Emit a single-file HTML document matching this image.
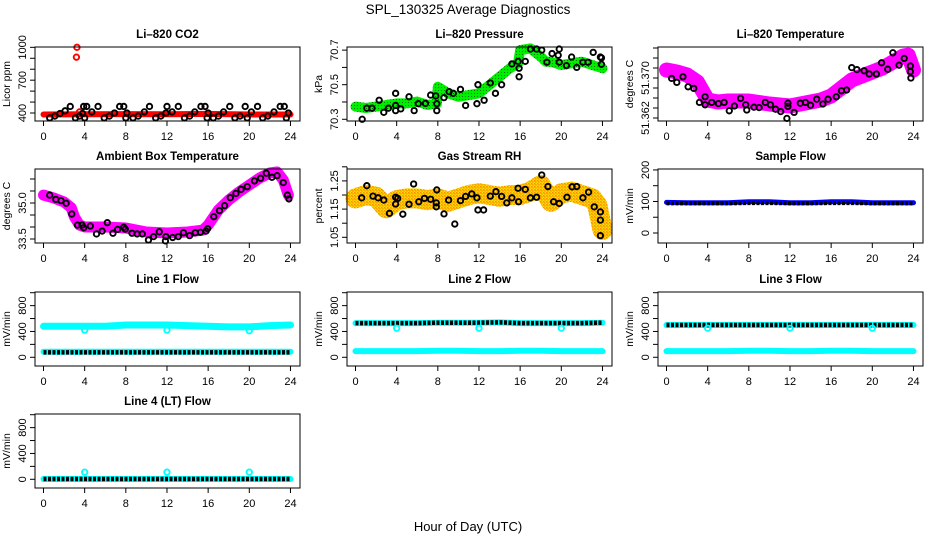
<!DOCTYPE html>
<html><head><meta charset="utf-8"><style>
body{margin:0;background:#fff}
svg{display:block;font-family:"Liberation Sans",sans-serif}
</style></head><body>
<svg id="chart" width="936" height="540" viewBox="0 0 936 540">
<defs>
<pattern id="rhpat" width="3" height="3" patternUnits="userSpaceOnUse"><rect width="3" height="3" fill="#ffe000"/><rect width="1.5" height="1.5" fill="#ff8a00"/><rect x="1.5" y="1.5" width="1" height="1" fill="#e05000"/></pattern>
<pattern id="grpat" width="3" height="3" patternUnits="userSpaceOnUse"><rect width="3" height="3" fill="#00ee00"/><rect width="1" height="1" fill="#007700"/></pattern>
</defs>
<text x="468" y="14" text-anchor="middle" font-size="13.5">SPL_130325  Average Diagnostics</text>
<text x="468" y="531" text-anchor="middle" font-size="13">Hour of Day (UTC)</text>
</svg>
<script>
const hours = [0,4,8,12,16,20,24];
// CO2
const co2BandH = [0,4,8,12,16,20,24];
const co2BandV = [386,388,390,388,392,386,386];
const co2RedH = [3.25,3.2,3.5];
const co2RedV = [1000,910,410];
const co2CircH = [0.6,1.1,1.6,2.1,2.6,3.1,3.5,3.8,3.9,4.0,4.2,4.7,5.3,5.9,6.4,6.9,7.4,7.8,8.0,8.1,8.7,9.2,9.8,10.3,10.9,11.4,11.9,12.0,12.5,13.1,13.7,14.2,14.7,15.3,15.7,15.9,16.0,16.5,17.0,17.5,18.1,18.6,19.1,19.6,19.8,20.2,20.8,21.3,21.8,22.4,23.0,23.4,23.6,23.8];
const co2CircV = [355,372,395,420,460,355,372,395,460,355,460,410,460,355,372,400,460,460,355,400,355,372,410,460,355,372,400,460,410,460,355,372,410,460,460,355,400,355,372,410,460,355,372,460,355,410,460,355,372,410,460,460,355,400];
// Pressure
const presBandH = [0,1,2,3,4,5,6,7,7.9,8,8.5,9,10,11,12,13,14,15,15.8,16,17,18,18.5,19,20,21,22,23,24];
const presBandV = [70.373,70.365,70.373,70.383,70.392,70.392,70.402,70.383,70.39,70.488,70.47,70.45,70.43,70.44,70.45,70.498,70.546,70.595,70.624,70.70,70.71,70.662,70.633,70.633,70.614,70.624,70.633,70.614,70.595];
const presCircH = [0.65,1.1,1.6,2.3,2.75,3.2,3.9,3.9,3.9,4.4,5.2,5.7,6.1,6.8,7.3,7.8,7.9,7.9,8.6,9.1,9.5,10.2,10.7,11.8,11.9,12.5,13.1,13.6,14.2,15.2,15.8,15.9,15.9,16.5,17,17.6,18.1,18.6,19.1,19.7,19.8,19.8,20.5,21,21.5,22.1,22.6,23.1,23.8,23.9,23.9];
const presCircV = [70.30,70.364,70.364,70.41,70.34,70.364,70.45,70.38,70.35,70.36,70.43,70.35,70.39,70.392,70.44,70.435,70.35,70.39,70.425,70.46,70.45,70.473,70.38,70.39,70.50,70.41,70.51,70.45,70.50,70.62,70.635,70.595,70.546,70.635,70.706,70.706,70.70,70.63,70.68,70.67,70.706,70.63,70.61,70.66,70.60,70.63,70.63,70.687,70.66,70.655,70.618];
// Li-820 temperature
const tempBandH = [0,1,2,3,4,5,6,8,10,12,13,14,15,16,17,18,19,20,21,22,23,23.5,24];
const tempBandV = [51.3716,51.3712,51.3706,51.3692,51.3656,51.3652,51.3654,51.3654,51.3648,51.3644,51.3648,51.3652,51.3656,51.3664,51.368,51.3696,51.3704,51.3712,51.372,51.3732,51.3744,51.37456,51.3716];
const tempCircH = [0.5,1.0,1.6,2.1,2.65,3.2,3.75,3.75,4.4,5.05,5.6,6.1,6.6,7.2,7.7,7.8,8.5,9.0,9.6,10.1,10.6,11.1,11.7,11.8,11.8,12.4,13.0,13.5,14.0,14.6,15.2,15.7,16.5,17.0,17.5,18.0,18.5,19.2,19.7,20.4,20.9,21.5,22.0,22.6,23.1,23.7,23.7,23.75];
const tempCircV = [51.36992,51.36912,51.37024,51.36824,51.36792,51.36512,51.36624,51.36464,51.36512,51.36488,51.36512,51.36344,51.3644,51.36592,51.36464,51.3636,51.36416,51.36408,51.36512,51.36464,51.36376,51.36328,51.36192,51.36432,51.36496,51.36312,51.36496,51.36512,51.36456,51.36576,51.3648,51.36576,51.36624,51.36744,51.3676,51.37208,51.37168,51.37144,51.3708,51.3708,51.37304,51.37176,51.37504,51.37256,51.37392,51.3724,51.37128,51.37];
// Ambient box temperature
const ambBandH = [0,1,2,2.7,3,3.5,4,6,8,10,12,14,15.5,16,17,18,19,20,21,22,22.7,23.3,23.8];
const ambBandV = [35.33,35.21,35.04,34.8,34.42,34.08,34.0,34.0,33.96,33.79,33.75,33.79,33.87,34.08,34.71,35.12,35.46,35.75,36.04,36.25,36.29,35.96,35.33];
const ambCircH = [0.6,1.2,1.7,2.2,2.75,3.3,3.75,3.9,4.55,5.15,5.7,6.2,6.75,7.2,7.8,7.95,8.6,9.1,9.6,10.2,10.7,11.25,11.85,11.9,12.55,13.1,13.6,14.2,14.75,15.25,15.8,15.95,16.55,17.1,17.6,18.15,18.7,19.2,19.8,20.5,21.1,21.65,22.2,22.7,23.3,23.7,23.85];
const ambCircV = [35.33,35.15,35.1,34.99,34.54,34.08,34.08,33.97,34.04,33.71,33.83,34.18,33.74,33.9,33.99,33.91,33.74,33.71,33.71,33.46,33.6,33.8,33.42,33.6,33.56,33.6,33.76,33.64,33.76,33.78,33.83,33.93,34.43,34.68,34.89,35.22,35.4,35.57,35.68,35.92,36.03,36.24,36.07,36.14,35.85,35.33,35.17];
// Gas stream RH
const rhBandH = [0,1,2,3,4,5,6,7,8,9,10,11,12,13,14,15,16,17,18,19,20,21,22,23,23.5,24];
const rhBandV = [1.188,1.2,1.194,1.153,1.182,1.188,1.188,1.182,1.188,1.176,1.188,1.2,1.206,1.2,1.194,1.2,1.2,1.212,1.235,1.176,1.206,1.212,1.2,1.188,1.164,1.076];
const rhCircH = [0.6,1.1,1.7,2.2,2.75,3.3,3.9,3.9,4.1,4.6,5.2,5.65,6.15,6.7,7.3,7.85,7.85,7.9,8.6,9.05,9.65,10.2,10.7,11.3,11.8,11.9,12.45,13.1,13.65,14.2,14.7,15.2,15.8,15.85,16.5,17.0,17.6,18.1,18.7,19.25,19.8,20.55,21.05,21.5,22.1,22.65,23.2,23.8,23.8,23.8];
const rhCircV = [1.19,1.233,1.196,1.19,1.182,1.135,1.192,1.168,1.188,1.132,1.167,1.239,1.176,1.188,1.185,1.158,1.172,1.218,1.133,1.182,1.097,1.18,1.195,1.204,1.19,1.147,1.147,1.196,1.212,1.195,1.172,1.19,1.224,1.176,1.22,1.19,1.192,1.271,1.23,1.176,1.17,1.192,1.229,1.23,1.19,1.21,1.158,1.14,1.111,1.056];
// Flows (hourly values)
const flowH = [0,2,4,6,8,10,12,14,16,18,20,22,24];
const sampleBlue = [97,96,96,96,99,99,96,96,99,99,96,96,96];
const sampleBlack = [94,94,94,94,95,95,94,94,95,95,94,94,94];
const line1Cyan = [480,480,480,480,500,500,500,490,480,470,470,490,500];
const line1Black = [75,75,75,75,75,75,75,75,75,75,75,75,75];
const line1Low = [85,85,85,85,85,85,85,85,85,85,85,85,85];
const line2Black = [530,530,530,530,535,535,535,540,530,530,530,530,535];
const line2Cyan = [95,95,95,95,100,100,95,95,100,100,95,95,95];
const line3Black = [500,500,500,500,500,500,500,500,500,500,500,500,500];
const line3Cyan = [95,95,95,95,100,100,95,95,100,100,95,95,95];
const line4Black = [5,5,5,5,5,5,5,5,5,5,5,5,5];
const line4Cyan = [5,5,5,5,5,5,5,5,5,5,5,5,5];
const dipH = [4,12,20];
const line1Dip = [420,420,410];
const line2Dip = [450,450,450];
const line3Dip = [450,450,450];
const line4Dip = [110,110,110];

const NS = 'http://www.w3.org/2000/svg';
const svg = document.getElementById('chart');
function mk(tag, attrs, parent) {
  const e = document.createElementNS(NS, tag);
  for (const k in attrs) e.setAttribute(k, attrs[k]);
  (parent || svg).appendChild(e);
  return e;
}
const colL = [35, 347, 658], rowT = [47, 169, 292, 414], W = 265, H = 74;

function panel(c, r, name, title, ylab, vmin, vmax, ticks, labels) {
  const L = colL[c], T = rowT[r];
  const g = mk('g', {});
  
  
  const xs = h => L + 8.5 + h * 10.29;
  const ys = v => T + (vmax - v) / (vmax - vmin) * H;
  const t = mk('text', {x: L + W / 2, y: T - 9, 'text-anchor': 'middle', 'font-size': 11.5, 'font-weight': 'bold'}, g);
  t.textContent = title;
  
  
  const yl = mk('text', {x: 0, y: 0, transform: `translate(${L - 25},${T + H / 2}) rotate(-90)`, 'text-anchor': 'middle', 'font-size': 10.5}, g);
  yl.textContent = ylab;
  
  
  mk('line', {x1: xs(0), x2: xs(24), y1: T + H, y2: T + H, stroke: '#000'}, g);
  hours.forEach(h => {
    mk('line', {x1: xs(h), x2: xs(h), y1: T + H, y2: T + H + 5, stroke: '#000'}, g);
    const tl = mk('text', {x: xs(h), y: T + H + 19, 'text-anchor': 'middle', 'font-size': 11}, g);
    tl.textContent = h;
    
    
  });
  mk('line', {x1: L, x2: L, y1: ys(ticks[0]), y2: ys(ticks[ticks.length - 1]), stroke: '#000'}, g);
  ticks.forEach(v => mk('line', {x1: L - 5, x2: L, y1: ys(v), y2: ys(v), stroke: '#000'}, g));
  labels.forEach(([v, s]) => {
    const tl = mk('text', {x: 0, y: 0, transform: `translate(${L - 9},${ys(v)}) rotate(-90)`, 'text-anchor': 'middle', 'font-size': 11}, g);
    tl.textContent = s;
    
    
  });
  const plot = mk('g', {}, g);
  const box = mk('rect', {x: L, y: T, width: W, height: H, fill: 'none', stroke: '#000'}, g);
  
  
  return {xs, ys, plot};
}
function band(p, H_, V, stroke, width, name, dash) {
  const pts = H_.map((h, i) => p.xs(h).toFixed(1) + ',' + p.ys(V[i]).toFixed(1)).join(' ');
  const a = {points: pts, fill: 'none', stroke: stroke, 'stroke-width': width, 'stroke-linejoin': 'round', 'stroke-linecap': 'round'};
  if (dash) { a['stroke-dasharray'] = dash; a['stroke-linecap'] = 'butt'; }
  const e = mk('polyline', a, p.plot);
  
  
}
function circles(p, H_, V, color, name, r) {
  H_.forEach((h, i) => {
    const e = mk('circle', {cx: p.xs(h), cy: p.ys(V[i]), r: r || 2.7, fill: 'none', stroke: color, 'stroke-width': 1.9}, p.plot);
    
    
  });
}
function rng(a, b, s) { const o = []; for (let v = a; v <= b + s / 1000; v += s) o.push(+v.toFixed(5)); return o; }

let p = panel(0, 0, 'co2', 'Li\u2013820 CO2', 'Licor ppm', 327, 1003, rng(400, 1000, 100), [[400, '400'], [700, '700'], [1000, '1000']]);
band(p, co2BandH, co2BandV, '#ff0000', 6, 'co2-band');
circles(p, co2RedH, co2RedV, '#ff0000', 'co2-outlier');
circles(p, co2CircH, co2CircV, '#000', 'co2-average-point');

p = panel(1, 0, 'pressure', 'Li\u2013820 Pressure', 'kPa', 70.290, 70.718, rng(70.3, 70.7, 0.1), [[70.3, '70.3'], [70.5, '70.5'], [70.7, '70.7']]);
band(p, presBandH, presBandV, 'url(#grpat)', 10, 'pressure-band');
circles(p, presCircH, presCircV, '#000', 'pressure-average-point');

p = panel(2, 0, 'li820-temp', 'Li\u2013820 Temperature', 'degrees C', 51.3614, 51.3762, rng(51.362, 51.376, 0.002), [[51.362, '51.362'], [51.37, '51.370']]);
band(p, tempBandH, tempBandV, '#ff00ff', 15, 'li820-temp-band');
circles(p, tempCircH, tempCircV, '#000', 'li820-temp-average-point');

p = panel(0, 1, 'ambient-temp', 'Ambient Box Temperature', 'degrees C', 33.333, 36.417, rng(33.5, 36, 0.5), [[33.5, '33.5'], [35, '35.0']]);
band(p, ambBandH, ambBandV, '#ff00ff', 11, 'ambient-temp-band');
circles(p, ambCircH, ambCircV, '#000', 'ambient-temp-average-point');

p = panel(1, 1, 'gas-rh', 'Gas Stream RH', 'percent', 1.0298, 1.2922, rng(1.05, 1.30, 0.05), [[1.05, '1.05'], [1.15, '1.15'], [1.25, '1.25']]);
band(p, rhBandH, rhBandV, 'url(#rhpat)', 20, 'gas-rh-band');
circles(p, rhCircH, rhCircV, '#000', 'gas-rh-average-point');

p = panel(2, 1, 'sample-flow', 'Sample Flow', 'mV/min', -31.7, 203, rng(0, 200, 50), [[0, '0'], [100, '100'], [200, '200']]);
band(p, flowH, sampleBlue, '#0000ff', 5, 'sample-flow-band');
band(p, flowH, sampleBlack, '#000', 4, 'sample-flow-average', '3 1.5');
const fl = (c, r, n, t) => panel(c, r, n, t, 'mV/min', -135, 1011, rng(0, 1000, 200), [[0, '0'], [400, '400'], [800, '800']]);

p = fl(0, 2, 'line1-flow', 'Line 1 Flow');
band(p, flowH, line1Cyan, '#00ffff', 7, 'line1-flow-band');
band(p, flowH, line1Low, '#00ffff', 6, 'line1-flow-low-band');
band(p, flowH, line1Black, '#000', 4.5, 'line1-flow-average', '3 1.5');
circles(p, dipH, line1Dip, '#00ffff', 'line1-flow-dip');

p = fl(1, 2, 'line2-flow', 'Line 2 Flow');
band(p, flowH, line2Cyan, '#00ffff', 6, 'line2-flow-band');
band(p, flowH, line2Black, '#00ffff', 6, 'line2-flow-high-band');
band(p, flowH, line2Black, '#000', 4.5, 'line2-flow-average', '3 1.5');
circles(p, dipH, line2Dip, '#00ffff', 'line2-flow-dip');

p = fl(2, 2, 'line3-flow', 'Line 3 Flow');
band(p, flowH, line3Cyan, '#00ffff', 6, 'line3-flow-band');
band(p, flowH, line3Black, '#00ffff', 6, 'line3-flow-high-band');
band(p, flowH, line3Black, '#000', 4.5, 'line3-flow-average', '3 1.5');
circles(p, dipH, line3Dip, '#00ffff', 'line3-flow-dip');

p = fl(0, 3, 'line4-flow', 'Line 4 (LT) Flow');
band(p, flowH, line4Cyan, '#00ffff', 6, 'line4-flow-band');
band(p, flowH, line4Black, '#000', 4.5, 'line4-flow-average', '3 1.5');
circles(p, dipH, line4Dip, '#00ffff', 'line4-flow-spike');
</script>
</body></html>
